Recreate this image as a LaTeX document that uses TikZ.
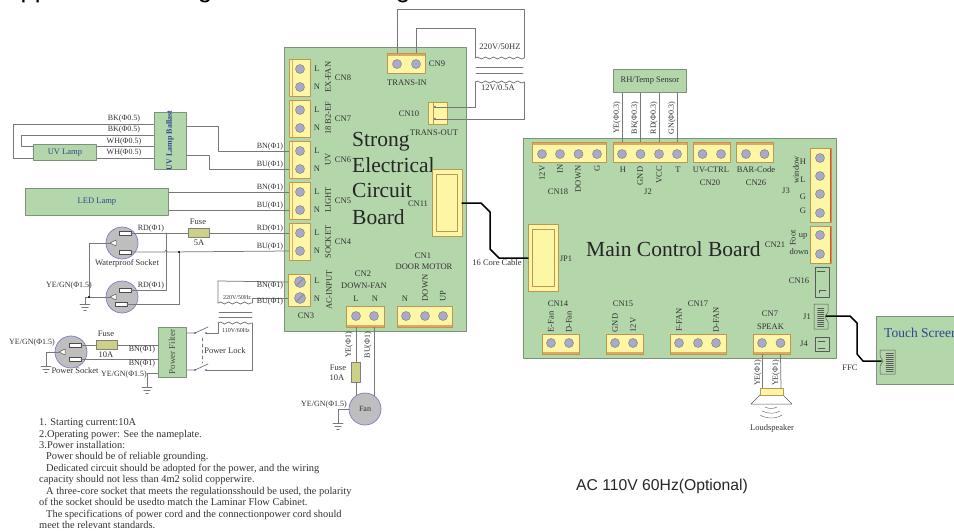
\documentclass[tikz,border=0pt]{standalone}
\usepackage{fontspec}
\setmainfont{Liberation Serif}
\newfontfamily\arialfont{Liberation Sans}
\usetikzlibrary{calc,decorations.pathmorphing}
\definecolor{boardgreen}{RGB}{179,214,170}
\definecolor{boardline}{RGB}{125,145,125}
\definecolor{termyellow}{RGB}{252,246,165}
\definecolor{termline}{RGB}{190,150,80}
\definecolor{termstrip}{RGB}{222,170,95}
\definecolor{screwfill}{RGB}{170,170,200}
\definecolor{wiregray}{RGB}{120,120,120}
\definecolor{labelgray}{RGB}{50,50,50}
\definecolor{lampblue}{RGB}{45,70,145}
\definecolor{fusefill}{RGB}{205,208,135}
\definecolor{sockfill}{RGB}{190,190,190}
\definecolor{sockline}{RGB}{120,125,195}
\begin{document}
\begin{tikzpicture}
	[line cap=round,line join=round,x=1pt,y=-1pt,
	sz/.style 2 args={minimum width=#1,minimum height=#2},
	greenbox/.style={draw=boardline,fill=boardgreen,line width=.9pt,inner sep=0pt,anchor=north west},
	term/.style={draw=termline,fill=termyellow,line width=.7pt,inner sep=0pt},
	termtop/.style={term,path picture={\fill[termstrip] (path picture bounding box.north west) rectangle ([yshift=-2.5pt]path picture bounding box.north east);}},
	termbot/.style={term,path picture={\fill[termstrip] (path picture bounding box.south west) rectangle ([yshift=2.5pt]path picture bounding box.south east);}},
	termleft/.style={term,path picture={\fill[termstrip] ([xshift=2.5pt]path picture bounding box.north west) rectangle ([xshift=3.3pt]path picture bounding box.south west);}},
	termright/.style={term,path picture={\fill[red!60!termstrip] (path picture bounding box.north east) rectangle ([xshift=-1.3pt]path picture bounding box.south east);}},
	screw/.style={circle,draw=gray,fill=screwfill,line width=.5pt,inner sep=0pt,minimum size=9pt},
	wire/.style={draw=wiregray,line width=.75pt},
	coilwire/.style={wire,decorate,decoration={snake,segment length=8pt,amplitude=1pt}},
	fatwire/.style={draw=black,line width=1.5pt},
	outline/.style={draw=black!65,line width=.5pt},
	fuse/.style={draw=gray,fill=fusefill,line width=.6pt,inner sep=0pt},
	socket/.style={circle,draw=sockline,fill=sockfill,line width=.7pt,inner sep=0pt,minimum size=32pt},
	slot/.style={draw=black!70,fill=white,line width=.5pt,inner sep=0pt,minimum width=11.5pt,minimum height=4.5pt},
	lbl/.style={font=\fontsize{8.5}{9}\selectfont,text=labelgray,inner sep=0pt},
	wl/.style={font=\fontsize{8}{9}\selectfont,text=labelgray,inner sep=0pt},
	tiny/.style={font=\fontsize{6}{7}\selectfont,text=labelgray,inner sep=0pt},
	lamplbl/.style={font=\fontsize{8.5}{9}\selectfont,text=lampblue,inner sep=0pt},
	boardtitle/.style={font=\fontsize{21.5}{26}\selectfont,text=black!85,inner sep=0pt,anchor=base west},
	gndsym/.pic={\draw[wire] (-5,0) -- (5,0) (-3.2,3) -- (3.2,3) (-1.3,6) -- (1.3,6);}]
	\useasboundingbox (0,0) rectangle (954,531);
	\clip (0,0) rectangle (954,531);
	\foreach \nm/\xc/\txt in {headpp/35/pp,headga/205/g,headgb/403/g}
		\node[font=\fontsize{26}{28}\selectfont\arialfont,inner sep=0pt,anchor=base] (\nm) at (\xc,-2.5) {\txt};
	\node[greenbox,sz={182}{284}] (strongboard) at (284,47) {};
	\node[greenbox,sz={313}{220}] (mainboard) at (523,138) {};
	\node[greenbox,sz={100}{68}] (touchscreen) at (876,316) {};
	\node[greenbox,sz={73}{23}] (sensor) at (613,69) {};
	\node[greenbox,sz={63}{16}] (uvlamp) at (33,144) {};
	\node[greenbox,sz={32.5}{57}] (ballast) at (153.5,112) {};
	\node[greenbox,sz={143}{27}] (ledlamp) at (25,188) {};
	\node[greenbox,sz={28}{50}] (powerfilter) at (158,327) {};
	\foreach \nm/\yb/\txt in {titlea/146/Strong,titleb/172/Electrical,titlec/197/Circuit,titled/224/Board}
		\node[boardtitle] (\nm) at (352,\yb) {\txt};
	\node[boardtitle] (maintitle) at (586,256) {Main Control Board};
	\foreach \nm/\yc in {cn8/78,cn7/119,cn6/160,cn5/201,cn4/242}{
		\node[termleft,sz={21}{37}] (\nm) at (299.5,\yc) {};
		\node[screw] (\nm a) at (300,\yc-9) {};
		\node[screw] (\nm b) at (300,\yc+9) {};
		\node[lbl] (\nm l) at ($(\nm a)+(17,0)$) {L};
		\node[lbl] (\nm n) at ($(\nm b)+(17,0)$) {N};
	}
	\node[term,sz={22}{32}] (cn3) at (299,290) {};
	\foreach \nm/\yc in {cn3a/282,cn3b/298}{
		\node[screw,minimum size=11pt] (\nm) at (300,\yc) {};
		\draw[wire,line width=.5pt] (296.5,\yc+3.5) -- (303.5,\yc-3.5);
	}
	\node[lbl] (cn3l) at (317,281) {L};
	\node[lbl] (cn3n) at (317,299) {N};
	\node[termtop,sz={38}{20}] (cn9) at (406,63) {};
	\foreach \nm/\xc in {cn9a/397,cn9b/416} \node[screw] (\nm) at (\xc,64) {};
	\node[term,sz={19}{22}] (cn10) at (437.5,113) {};
	\draw[draw=termline,line width=.6pt] (433,102) -- (433,124);
	\foreach \nm/\yc in {cn10a/107,cn10b/119} \fill[black!70!red] (435,\yc) circle (.9) coordinate (\nm);
	\node[term,sz={30}{67}] (cn11) at (447,202.5) {};
	\node[term,sz={21}{57}] (cn11in) at (446.5,202.5) {};
	\coordinate (cn11pin) at (462,203);
	\node[term,sz={30}{67}] (jp1) at (543,257.5) {};
	\node[term,sz={22}{57}] (jp1in) at (543,257.5) {};
	\coordinate (jp1pin) at (528,258);
	\node[termbot,sz={38}{21}] (cn2) at (365,316.5) {};
	\foreach \nm/\xc in {cn2a/356,cn2b/374} \node[screw] (\nm) at (\xc,316) {};
	\node[termbot,sz={55}{21}] (cn1) at (424.5,316.5) {};
	\foreach \nm/\xc in {cn1a/406,cn1b/425,cn1c/443} \node[screw] (\nm) at (\xc,316) {};
	\foreach \nm/\xc/\wdt in {cn18/569/74,j2/650/74,cn20/711.5/37,cn26/754.5/37}
		\node[termtop,sz={\wdt}{20}] (\nm) at (\xc,152) {};
	\foreach \nm/\xc in {cn18a/542,cn18b/560,cn18c/578.5,cn18d/597,j2a/622,j2b/640.5,j2c/659,j2d/677,cn20a/702.5,cn20b/721,cn26a/746,cn26b/764.5}
		\node[screw] (\nm) at (\xc,154) {};
	\node[termright,sz={21}{74}] (j3) at (820.5,185) {};
	\foreach \nm/\yc in {j3a/158,j3b/176,j3c/194,j3d/213} \node[screw] (\nm) at (820,\yc) {};
	\node[termright,sz={21}{37}] (cn21) at (820.5,244.5) {};
	\foreach \nm/\yc in {cn21a/235,cn21b/254} \node[screw] (\nm) at (820,\yc) {};
	\foreach \nm/\xc/\wdt in {cn14/560.5/37,cn15/624.5/37,cn17/698/56,cn7/771.5/37}
		\node[termbot,sz={\wdt}{20}] (\nm) at (\xc,344) {};
	\foreach \nm/\xc in {cn14a/551,cn14b/569,cn15a/615,cn15b/633,cn17a/679,cn17b/698,cn17c/716,cn7a/762,cn7b/780.5}
		\node[screw] (\nm) at (\xc,343) {};
	\node[draw=black!65,line width=.5pt,sz={14}{30},inner sep=0pt] (cn16) at (822,282) {};
	\draw[outline] (817,271) -- (825,271) (819,293) -- (819,290) -- (826,290);
	\node[draw=black!65,line width=.5pt,sz={14}{14},inner sep=0pt] (j4) at (822,344) {};
	\draw[outline] (818,341) -- (825,341) (818,348) -- (825,348);
	\draw[outline] (814,304) -- (828,304) -- (828,312) -- (825,317) -- (828,322) -- (828,329) -- (814,329) -- cycle;
	\foreach \yc in {308,310,...,326} \draw[outline,line width=.4pt] (817.5,\yc) -- (824,\yc);
	\coordinate (j1pin) at (826,316);
	\draw[outline] (880,350) -- (895,350) -- (895,374) -- (880,374) -- (880,366) -- (883,361) -- (880,356) -- cycle;
	\foreach \yc in {353,355,...,371} \draw[outline,line width=.4pt] (886,\yc) -- (893.5,\yc);
	\coordinate (tspin) at (881,361);
	\draw[fatwire] (cn11pin) -- (481,203) -- (490,212) -- (490,249) -- (499,258) -- (jp1pin);
	\draw[fatwire] (j1pin) -- (850,316) -- (857,323) -- (857,354) -- (863,361) -- (tspin);
	\foreach \xc/\nm in {622/j2a,640.5/j2b,659/j2c,677/j2d} \draw[wire] (\nm |- sensor.south) -- (\nm |- j2.north);
	\draw[wire] (cn9a |- cn9.north) -- (397,9) -- (524,9) -- (524,58);
	\draw[wire] (cn9b |- cn9.north) -- (416,28) -- (475,28) -- (475,58);
	\draw[coilwire] (475,58) -- (524,58);
	\draw[wire] (476,67) -- (523,67) (476,73) -- (523,73);
	\draw[coilwire] (475,82) -- (524,82);
	\draw[wire] (475,82) -- (475,107) -- (cn10a);
	\draw[wire] (524,82) -- (524,119) -- (cn10b);
	\draw[wire] (ballast.west |- 0,124) -- (13,124) -- (13,158) -- (uvlamp.west |- 0,158);
	\draw[wire] (ballast.west |- 0,135) -- (21,135) -- (21,146) -- (uvlamp.north west |- 0,146);
	\draw[wire] (uvlamp.east |- 0,146) -- (ballast.west |- 0,146);
	\draw[wire] (uvlamp.east |- 0,158) -- (ballast.west |- 0,158);
	\draw[wire] (ballast.east |- 0,126) -- (218,126) -- (218,151) -- (cn6a -| cn6.west);
	\draw[wire] (ballast.east |- 0,155) -- (209,155) -- (209,169) -- (cn6b -| cn6.west);
	\draw[wire] (ledlamp.east |- cn5a) -- (cn5a -| cn5.west);
	\draw[wire] (ledlamp.east |- cn5b) -- (cn5b -| cn5.west);
	\foreach \nm/\xc/\yc/\xa/\ya/\xb/\yb in {wpsock/122/243/125/233/125/252,losock/122/297/125/290/121/304,pwsock/71/352/75/345/75/359}{
		\node[socket] (\nm) at (\xc,\yc) {};
		\node[slot] (\nm a) at (\xa,\ya) {};
		\node[slot] (\nm b) at (\xb,\yb) {};
		\draw[outline,fill=white] (\xc-12,\yc) -- (\xc-6,\yc-3) -- (\xc-6,\yc+3) -- cycle;
		\coordinate (\nm g) at (\xc-12,\yc);
	}
	\node[fuse,sz={21}{8.5}] (fusea) at (198.5,233) {};
	\node[fuse,sz={21}{8.5}] (fuseb) at (106.5,345) {};
	\node[fuse,sz={9}{20}] (fusec) at (356,372) {};
	\draw[wire] (wpsocka.east) -- (fusea.west);
	\draw[wire] (fusea.east) -- (cn4a -| cn4.west);
	\draw[wire] (wpsockb.east) -- (164.5,252) .. controls (165.5,249.5) and (166.5,249.5) .. (167.5,252) -- (cn4b -| cn4.west);
	\draw[wire] (166,233) -- (166,290) -- (losocka.east);
	\draw[wire] (179,252) -- (179,304) -- (losockb.east);
	\draw[wire] (wpsockg) -- (89,243) -- (89,297) -- (losockg);
	\draw[wire] (89,297) -- (85,297) -- (85,304);
	\fill[black] (179,252) circle (1.2) coordinate (budot);
	\fill[black] (89,297) circle (1.2) coordinate (gnddot);
	\pic at (85,304) {gndsym};
	\draw[wire] (pwsocka.east) -- (fuseb.west);
	\draw[wire] (fuseb.east) -- (powerfilter.west |- 0,345);
	\draw[wire] (pwsockb.east) -- (powerfilter.west |- 0,359);
	\draw[wire] (pwsockg) -- (46,352) -- (46,366);
	\pic at (46,366) {gndsym};
	\draw[wire] (powerfilter.west |- 0,373) -- (147,373) -- (147,387);
	\pic at (147,387) {gndsym};
	\draw[wire] (cn3a -| cn3.west) -- (218,281) -- (218,303);
	\draw[wire] (cn3b -| cn3.west) -- (252,298) -- (252,303);
	\draw[coilwire] (218,303) -- (252,303);
	\draw[wire] (219,312) -- (252,312) (219,317) -- (252,317);
	\draw[coilwire] (218,323) -- (252,323);
	\coordinate (lockaR) at (206,333);
	\coordinate (lockbR) at (206,370);
	\coordinate (lockaL) at (195,333);
	\coordinate (lockbL) at (195,370);
	\draw[wire] (218,323) -- (218,333) -- (lockaR);
	\draw[wire] (252,323) -- (252,370) -- (lockbR);
	\draw[wire] (powerfilter.east |- lockaL) -- (lockaL) -- (208,327);
	\draw[wire] (powerfilter.east |- lockbL) -- (lockbL) -- (208,364);
	\draw[wire,dashed] (202,338) -- (202,363);
	\foreach \nm in {lockaL,lockaR,lockbL,lockbR} \fill[lampblue] (\nm) circle (.9);
	\draw[wire] (cn2a |- cn2.south) -- (fusec.north);
	\draw[wire] (fusec.south) -- (356,398);
	\draw[wire] (cn2b |- cn2.south) -- (374,396);
	\node[circle,draw=sockline,fill=sockfill,line width=.7pt,inner sep=0pt,minimum size=32pt,font=\fontsize{8}{9}\selectfont,text=labelgray] (fan) at (365,409) {Fan};
	\draw[wire] (fan.west) -- (338,409) -- (338,423);
	\pic at (338,423) {gndsym};
	\draw[wire] (cn7a |- cn7.south) -- (762,389);
	\draw[wire] (cn7b |- cn7.south) -- (781,389);
	\draw[outline,fill=white] (760,395) -- (751,404) -- (792,404) -- (783,395) -- cycle;
	\node[term,sz={23}{6.5}] (magnet) at (771.5,392) {};
	\draw[outline,line width=.4pt] (765,407) .. controls (769,409) and (773,409) .. (777,407);
	\draw[outline,line width=.4pt] (762,411) .. controls (768,414) and (775,414) .. (780,411);
	\draw[outline,line width=.4pt] (760,415) .. controls (767,419) and (776,419) .. (782,415);
	\foreach \nm/\xc/\yc/\txt in {lblcn8/343/78/CN8,lblcn7/343/119/CN7,lblcn6/343/160/CN6,lblcn5/343/201/CN5,lblcn4/343/242/CN4,lblcn3/306/316/CN3,lblcn9/437/64/CN9,lblcn10/409/114/CN10,lbltransin/407/83/TRANS-IN,lbltransout/434/133/TRANS-OUT,lblcn11/418/204/CN11,lblcn1/423/256/CN1,lbldoor/424/267/DOOR MOTOR,lblcn2/363/274/CN2,lbldown/364/286/DOWN-FAN,lblcn2l/356/299/L,lblcn2n/375/299/N,lblcn1n/405/299/N,lblcn18/558/192/CN18,lblh/623/170/H,lblt/678/170/T,lblj2/648/192/J2,lbluvctrl/711/170/UV-CTRL,lblcn20/710/183/CN20,lblbar/756/170/BAR-Code,lblcn26/756/183/CN26,lblj3h/803/162/H,lblj3l/803/180/L,lblj3ga/803/197/G,lblj3gb/803/211/G,lblj3/786/191/J3,lblup/803/236/up,lbldn/799/252/down,lblcn21/775/245/CN21,lblcn16/799/281/CN16,lblj1/807/317/J1,lblj4/804/344/J4,lbljp1/566/259/JP1,lblcn14/558/304/CN14,lblcn15/623/304/CN15,lblcn17/698/304/CN17,lblcn7/770/314/CN7,lblspeak/770.5/327/SPEAK,lblloud/772/428/Loudspeaker,lblcable/497/263/16 Core Cable,lblffc/850/368/FFC,lblwater/127/263/Waterproof Socket,lblpwsock/75/371/Power Socket,lblpwlock/225/351/Power Lock,lblfusea/198/222/Fuse,lbl5a/199/243/5A,lblfuseb/106/334/Fuse,lbl10a/106/355/10A,lblfusec/338/368/Fuse,lbl10ab/337/378/10A}
		\node[lbl] (\nm) at (\xc,\yc) {\txt};
	\foreach \nm/\xc/\yc/\txt in {rotexfan/328/77/EX-FAN,rotbtwo/328/118/18 B2-EF,rotuv/328/159/UV,rotlight/328/200/LIGHT,rotsocket/328/242/SOCKET,rotac/329/290/AC-INPUT,rotdoor/425/288/DOWN,rotup/443/296/UP,rot12v/542/173/12V,rotin/560/169/IN,rotdown/578/179/DOWN,rotg/597/168/G,rotgnd/640/176/GND,rotvcc/659/175/VCC,rotwin/796/170/window,rotfoot/793/238/Foot,rotefan/551/322/E-Fan,rotdfan/569/322/D-Fan,rotgndb/615/323/GND,rot12vb/633/325/12V,rotffan/679/320/F-FAN,rotdfanb/716/320/D-FAN}
		\node[lbl,rotate=90] (\nm) at (\xc,\yc) {\txt};
	\foreach \nm/\xc/\yc/\txt in {wbka/124/119/BK(Φ0.5),wbkb/124/130/BK(Φ0.5),wwha/124/142/WH(Φ0.5),wwhb/124/153/WH(Φ0.5),wbna/270/147/BN(Φ1),wbua/270/165/BU(Φ1),wbnb/270/188/BN(Φ1),wbub/270/206/BU(Φ1),wrda/270/229/RD(Φ1),wbuc/270/247/BU(Φ1),wbnc/270/286/BN(Φ1),wbud/270/302/BU(Φ1),wrdb/151/229/RD(Φ1),wrdc/151/286/RD(Φ1),wyga/69/286/{YE/GN(Φ1.5)},wygb/32/343/{YE/GN(Φ1.5)},wygc/124/375/{YE/GN(Φ1.5)},wygd/324/405/{YE/GN(Φ1.5)},wbnd/142/350/BN(Φ1),wbne/142/364/BN(Φ1)}
		\node[wl] (\nm) at (\xc,\yc) {\txt};
	\foreach \nm/\xc/\yc/\txt in {vye/617/118/YE(Φ0.3),vbk/635/118/BK(Φ0.3),vrd/654/118/RD(Φ0.3),vgn/672/118/GN(Φ0.3),vfanl/349/345/YE(Φ1),vfann/368/345/BU(Φ1),vspa/758/373/YE(Φ1),vspb/776/373/YE(Φ1)}
		\node[wl,rotate=90] (\nm) at (\xc,\yc) {\txt};
	\node[lbl] (lblprim) at (500,47) {220V/50HZ};
	\node[lbl] (lblsec) at (498,88) {12V/0.5A};
	\node[tiny] (lblprimb) at (237,298) {220V/50Hz};
	\node[tiny] (lblsecb) at (236,331) {110V/60Hz};
	\node[lamplbl] (lbluvlamp) at (uvlamp) {UV Lamp};
	\node[lamplbl] (lblled) at (ledlamp) {LED Lamp};
	\node[lamplbl,font=\fontsize{8}{9}\selectfont\bfseries,rotate=90] (lblballast) at (170,140.5) {UV Lamp Ballast};
	\node[lamplbl,text=labelgray,font=\fontsize{8.5}{9}\selectfont] (lblsensor) at (sensor) {RH/Temp Sensor};
	\node[lamplbl,text=black!70,font=\fontsize{9}{10}\selectfont,rotate=90] (lblfilter) at (172,352) {Power Filter};
	\node[font=\fontsize{13.5}{15}\selectfont,text=lampblue,inner sep=0pt,anchor=west] (lbltouch) at (884,333) {Touch Screen};
	\node[font=\fontsize{10.4}{11.45}\selectfont,text=labelgray,align=left,inner sep=0pt,anchor=north west] (notes) at (39,418.5) {1. Starting current:10A\\
2.Operating power: See the nameplate.\\
3.Power installation:\\
\hspace*{7pt}Power should be of reliable grounding.\\
\hspace*{7pt}Dedicated circuit should be adopted for the power, and the wiring\\
capacity should not less than 4m2 solid copperwire.\\
\hspace*{7pt}A three-core socket that meets the regulationsshould be used, the polarity\\
of the socket should be usedto match the Laminar Flow Cabinet.\\
\hspace*{7pt}The specifications of power cord and the connectionpower cord should\\
meet the relevant standards.};
	\node[font=\fontsize{15.7}{18}\selectfont\arialfont,text=black!85,inner sep=0pt,anchor=west] (optional) at (576,486) {AC 110V 60Hz(Optional)};
\end{tikzpicture}
\end{document}
